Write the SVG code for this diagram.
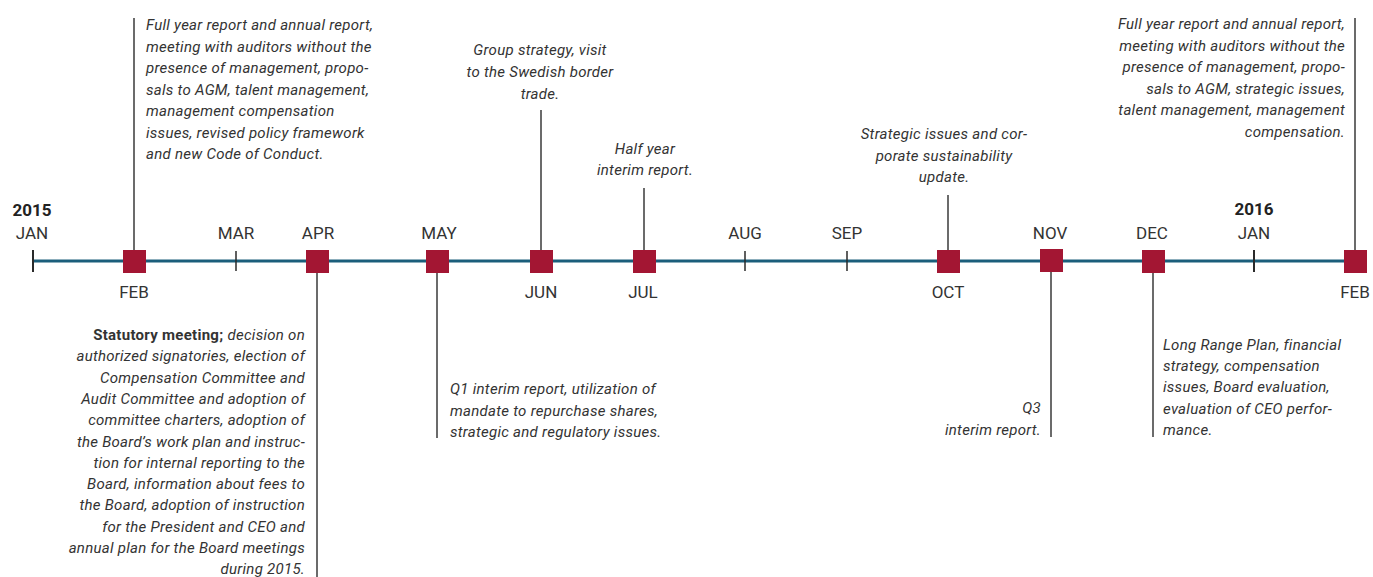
<svg xmlns="http://www.w3.org/2000/svg" width="1373" height="577" viewBox="0 0 1373 577">
<style>
.bg{fill:#fff}
.axis{stroke:#1b5e7b;stroke-width:3}
.tick{stroke:#2a2a2a;stroke-width:2}
.conn{stroke:#3a3a3a;stroke-width:1.5}
.sq{fill:#a31633}
.mon{font-family:Roboto,"Liberation Sans",sans-serif;font-size:17px;fill:#333;text-anchor:middle}
.yr{font-family:Roboto,"Liberation Sans",sans-serif;font-size:17px;font-weight:bold;fill:#222;text-anchor:middle}
.note{font-family:Roboto,"Liberation Sans",sans-serif;font-size:15px;letter-spacing:0.28px;font-style:italic;fill:#333}
.b{font-weight:bold;font-style:normal}
.l{text-anchor:start}.r{text-anchor:end}.c{text-anchor:middle}
</style>
<rect class="bg" width="1373" height="577"/>
<g id="axis">
<line class="axis" x1="33" y1="261" x2="1360" y2="261"/>
<line class="tick" x1="33" y1="250" x2="33" y2="272"/>
<line class="tick" x1="236" y1="251" x2="236" y2="271" style="stroke-width:1.5"/>
<line class="tick" x1="745" y1="251" x2="745" y2="271" style="stroke-width:1.5"/>
<line class="tick" x1="847" y1="251" x2="847" y2="271" style="stroke-width:1.5"/>
<line class="tick" x1="1254" y1="250" x2="1254" y2="272"/>
<text class="yr" x="32" y="216">2015</text>
<text class="yr" x="1254" y="215">2016</text>
<text class="mon" x="32" y="239">JAN</text>
<text class="mon" x="236" y="239">MAR</text>
<text class="mon" x="745" y="239">AUG</text>
<text class="mon" x="847" y="239">SEP</text>
<text class="mon" x="1254" y="239">JAN</text>
</g>
<g id="connectors">
<line class="conn" x1="134" y1="18" x2="134" y2="250"/>
<line class="conn" x1="317" y1="272" x2="317" y2="577"/>
<line class="conn" x1="437" y1="272" x2="437" y2="438"/>
<line class="conn" x1="541" y1="110" x2="541" y2="250"/>
<line class="conn" x1="644" y1="188" x2="644" y2="250"/>
<line class="conn" x1="948" y1="195" x2="948" y2="250"/>
<line class="conn" x1="1051" y1="272" x2="1051" y2="437"/>
<line class="conn" x1="1153" y1="272" x2="1153" y2="437"/>
<line class="conn" x1="1355" y1="18" x2="1355" y2="250"/>
</g>
<g id="feb">
<rect class="sq" x="123" y="250" width="23" height="23"/>
<text class="mon" x="134" y="298">FEB</text>
<text class="note l" x="146"><tspan x="146" y="30">Full year report and annual report,</tspan><tspan x="146" y="51.5">meeting with auditors without the</tspan><tspan x="146" y="73">presence of management, propo-</tspan><tspan x="146" y="94.5">sals to AGM, talent management,</tspan><tspan x="146" y="116">management compensation</tspan><tspan x="146" y="137.5">issues, revised policy framework</tspan><tspan x="146" y="159">and new Code of Conduct.</tspan></text>
</g>
<g id="apr">
<rect class="sq" x="306" y="250" width="23" height="23"/>
<text class="mon" x="318" y="239">APR</text>
<text class="note r"><tspan x="305" y="340"><tspan class="b">Statutory meeting; </tspan>decision on</tspan><tspan x="305" y="361.3">authorized signatories, election of</tspan><tspan x="305" y="382.6">Compensation Committee and</tspan><tspan x="305" y="403.9">Audit Committee and adoption of</tspan><tspan x="305" y="425.2">committee charters, adoption of</tspan><tspan x="305" y="446.5">the Board’s work plan and instruc-</tspan><tspan x="305" y="467.8">tion for internal reporting to the</tspan><tspan x="305" y="489.1">Board, information about fees to</tspan><tspan x="305" y="510.4">the Board, adoption of instruction</tspan><tspan x="305" y="531.7">for the President and CEO and</tspan><tspan x="305" y="553">annual plan for the Board meetings</tspan><tspan x="305" y="574">during 2015.</tspan></text>
</g>
<g id="may">
<rect class="sq" x="426" y="250" width="23" height="23"/>
<text class="mon" x="439" y="239">MAY</text>
<text class="note l"><tspan x="450" y="394">Q1 interim report, utilization of</tspan><tspan x="450" y="416">mandate to repurchase shares,</tspan><tspan x="450" y="437">strategic and regulatory issues.</tspan></text>
</g>
<g id="jun">
<rect class="sq" x="530" y="250" width="23" height="23"/>
<text class="mon" x="541" y="298">JUN</text>
<text class="note c"><tspan x="540" y="55">Group strategy, visit</tspan><tspan x="540" y="77">to the Swedish border</tspan><tspan x="540" y="99">trade.</tspan></text>
</g>
<g id="jul">
<rect class="sq" x="633" y="250" width="23" height="23"/>
<text class="mon" x="643" y="298">JUL</text>
<text class="note c"><tspan x="645" y="154">Half year</tspan><tspan x="645" y="175">interim report.</tspan></text>
</g>
<g id="oct">
<rect class="sq" x="937" y="250" width="23" height="23"/>
<text class="mon" x="948" y="298">OCT</text>
<text class="note c"><tspan x="944" y="139">Strategic issues and cor-</tspan><tspan x="944" y="161">porate sustainability</tspan><tspan x="944" y="182">update.</tspan></text>
</g>
<g id="nov">
<rect class="sq" x="1040" y="249" width="23" height="23"/>
<text class="mon" x="1050" y="239">NOV</text>
<text class="note r"><tspan x="1041" y="413">Q3</tspan><tspan x="1041" y="435">interim report.</tspan></text>
</g>
<g id="dec">
<rect class="sq" x="1142" y="250" width="23" height="23"/>
<text class="mon" x="1152" y="239">DEC</text>
<text class="note l"><tspan x="1163" y="350">Long Range Plan, financial</tspan><tspan x="1163" y="371">strategy, compensation</tspan><tspan x="1163" y="392">issues, Board evaluation,</tspan><tspan x="1163" y="414">evaluation of CEO perfor-</tspan><tspan x="1163" y="435">mance.</tspan></text>
</g>
<g id="feb2016">
<rect class="sq" x="1344" y="250" width="23" height="23"/>
<text class="mon" x="1355" y="298">FEB</text>
<text class="note r"><tspan x="1345" y="29">Full year report and annual report,</tspan><tspan x="1345" y="51">meeting with auditors without the</tspan><tspan x="1345" y="72">presence of management, propo-</tspan><tspan x="1345" y="94">sals to AGM, strategic issues,</tspan><tspan x="1345" y="115">talent management, management</tspan><tspan x="1345" y="137">compensation.</tspan></text>
</g>
</svg>
